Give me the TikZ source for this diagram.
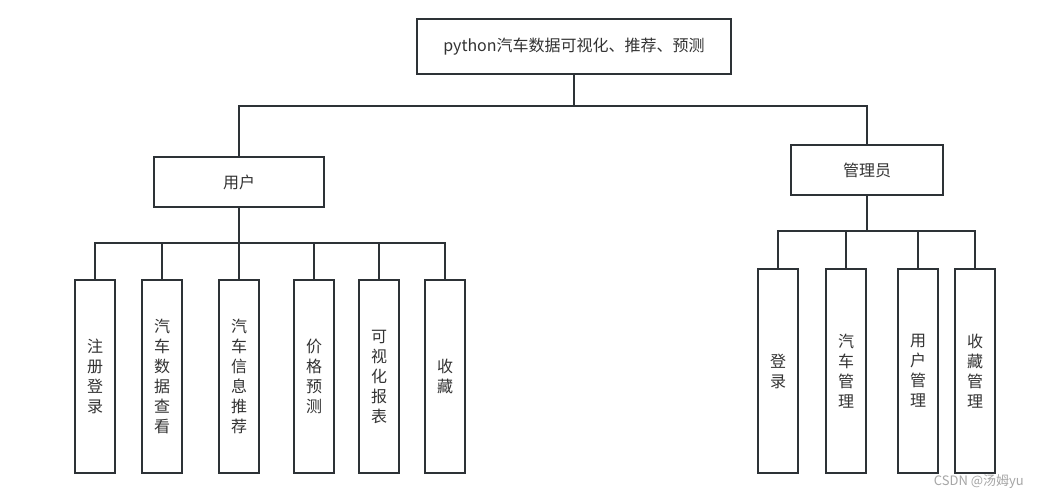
\documentclass[tikz,border=0pt]{standalone}
\usepackage{fontspec}
\setmainfont{Noto Sans CJK SC}
\usepackage{tikz}
\usetikzlibrary{calc}
\definecolor{edge}{HTML}{2D3236}
\definecolor{ink}{HTML}{333333}

\begin{document}
\begin{tikzpicture}[x=1pt,y=-1pt,
    box/.style={draw=edge, line width=2.6pt, text=ink, font=\fontsize{16}{20}\selectfont,
      inner sep=0pt, minimum height=50pt},
    vbox/.style={box, minimum width=40pt, align=center}]
    \useasboundingbox[fill=white] (0,0) rectangle (1039,499);
    \node[box, minimum width=314pt, minimum height=55pt] (sys) at (574,46.5) {python汽车数据可视化、推荐、预测};
    \node[box, minimum width=170pt] (user) at (239,182) {用户};
    \node[box, minimum width=152pt] (admin) at (867,170) {管理员};
    % user functions
    \foreach \n/\x/\t in {u1/95/{注\\册\\登\\录}, u2/162/{汽\\车\\数\\据\\查\\看},
        u3/239/{汽\\车\\信\\息\\推\\荐}, u4/314/{价\\格\\预\\测},
        u5/379/{可\\视\\化\\报\\表}, u6/445/{收\\藏}}
      \node[vbox, minimum height=193pt] (\n) at (\x,376.5) {\t};
    % admin functions
    \foreach \n/\x/\t in {a1/778/{登\\录}, a2/846/{汽\\车\\管\\理},
        a3/918/{用\\户\\管\\理}, a4/975/{收\\藏\\管\\理}}
      \node[vbox, minimum height=204pt] (\n) at (\x,371) {\t};
    \coordinate (j0) at (574,106);
    \coordinate (j1) at (239,243);
    \coordinate (j2) at (867,231);
    \begin{scope}[draw=edge, line width=2.6pt]
      \draw (sys.south) -- (j0);
      \draw (user.north) |- (j0) -| (admin.north);
      \draw (user.south) -- (j1);
      \draw (admin.south) -- (j2);
      \foreach \n in {u1,u2,u3,u4,u5,u6}
        \draw (\n.north) |- (j1);
      \foreach \n in {a1,a2,a3,a4}
        \draw (\n.north) |- (j2);
    \end{scope}
    \node[anchor=east, text=gray!70, font=\fontsize{13}{15}\selectfont, inner sep=0pt] (mark) at (1024,482) {CSDN @汤姆yu};
  \end{tikzpicture}
\end{document}
